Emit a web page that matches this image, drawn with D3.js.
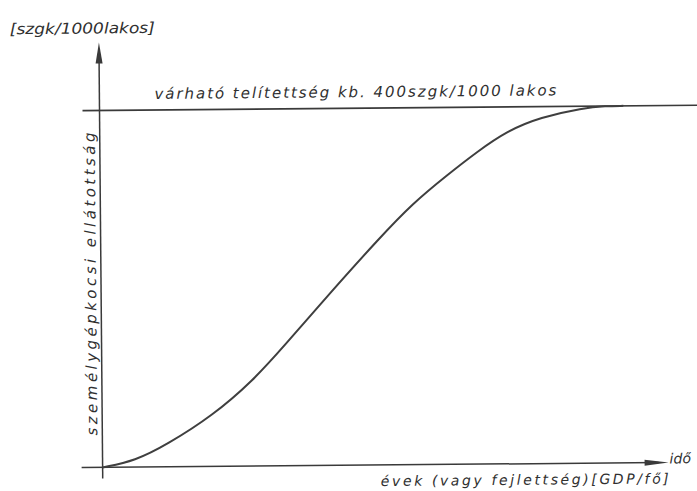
<!DOCTYPE html>
<html>
<head>
<meta charset="utf-8">
<script src="https://cdn.jsdelivr.net/npm/d3@7"></script>
<style>
  html, body { margin: 0; padding: 0; background: #fff; }
  svg { display: block; }
  text { font-family: "DejaVu Sans", sans-serif; font-style: italic; fill: #303030; }
</style>
</head>
<body>
<div id="chart"></div>
<script>
const WIDTH  = 697;
const HEIGHT = 491;

// S-curve: years (arbitrary units) vs cars per 1000 people
const years = [0, 5.6, 11.1, 19, 26, 31.2, 39.3, 48, 53.7, 59.6, 64.8, 70, 75.7, 83.1, 87, 90];
const cars  = [0, 7, 25, 57, 96, 133, 193, 255, 293, 324, 350, 373, 388, 398, 400, 400];

const SATURATION = 400;

const yUnit      = '[szgk/1000lakos]';
const yTitle     = 'személygépkocsi ellátottság';
const satLabel   = 'várható telítettség kb. 400szgk/1000 lakos';
const xTitle     = 'évek (vagy fejlettség)[GDP/fő]';
const xArrowText = 'idő';

const INK = '#3a3a3a';

const x = d3.scaleLinear().domain([0, 100]).range([101, 683]);
const y = d3.scaleLinear().domain([0, 400]).range([465, 108]);

const svg = d3.select('#chart')
  .append('svg')
  .attr('width', WIDTH)
  .attr('height', HEIGHT);

svg.append('rect').attr('width', WIDTH).attr('height', HEIGHT).attr('fill', '#fff');

// the scan is a touch rotated, so the whole drawing is too
const g = svg.append('g').attr('transform', 'rotate(-0.5, 380, 280)');

// ── Axes ────────────────────────────────────────────────────────────────

const x0 = x(0), y0 = y(0);
const yTop = 40, xEnd = 667;

g.append('line')
  .attr('x1', x0).attr('x2', x0)
  .attr('y1', y0 + 11).attr('y2', yTop + 10)
  .attr('stroke', INK).attr('stroke-width', 1.5);

g.append('path')
  .attr('d', `M${x0},${yTop} L${x0 - 3.5},${yTop + 21} L${x0 + 3.5},${yTop + 21} Z`)
  .attr('fill', INK);

g.append('line')
  .attr('x1', x0 - 21).attr('x2', xEnd - 10)
  .attr('y1', y0).attr('y2', y0)
  .attr('stroke', INK).attr('stroke-width', 1.5);

g.append('path')
  .attr('d', `M${xEnd},${y0} L${xEnd - 24},${y0 - 3} L${xEnd - 24},${y0 + 3} Z`)
  .attr('fill', INK);

// saturation level
g.append('line')
  .attr('x1', x0 - 17).attr('x2', WIDTH + 5)
  .attr('y1', y(SATURATION)).attr('y2', y(SATURATION))
  .attr('stroke', INK).attr('stroke-width', 1.6);

// ── Curve ───────────────────────────────────────────────────────────────

// basis spline keeps the hand-drawn S smooth through the read-off points
const line = d3.line()
  .x((d, i) => x(years[i]))
  .y(d => y(d))
  .curve(d3.curveBasis);

g.append('path')
  .datum(cars)
  .attr('d', line)
  .attr('fill', 'none')
  .attr('stroke', '#3f3f3f')
  .attr('stroke-width', 2);

// ── Labels ──────────────────────────────────────────────────────────────

g.append('text')
  .attr('x', 12).attr('y', 31)
  .attr('font-size', 15)
  .attr('textLength', 145).attr('lengthAdjust', 'spacingAndGlyphs')
  .text(yUnit);

g.append('text')
  .attr('x', 156).attr('y', 97)
  .attr('font-size', 15)
  .attr('textLength', 402).attr('lengthAdjust', 'spacing')
  .text(satLabel);

g.append('text')
  .attr('transform', `translate(${x0 - 5},${433}) rotate(-90)`)
  .attr('font-size', 15)
  .attr('textLength', 303).attr('lengthAdjust', 'spacing')
  .text(yTitle);

g.append('text')
  .attr('x', 379).attr('y', 486)
  .attr('font-size', 14)
  .attr('textLength', 288).attr('lengthAdjust', 'spacing')
  .text(xTitle);

g.append('text')
  .attr('x', 668).attr('y', y0 + 1)
  .attr('font-size', 14)
  .text(xArrowText);
</script>
</body>
</html>
